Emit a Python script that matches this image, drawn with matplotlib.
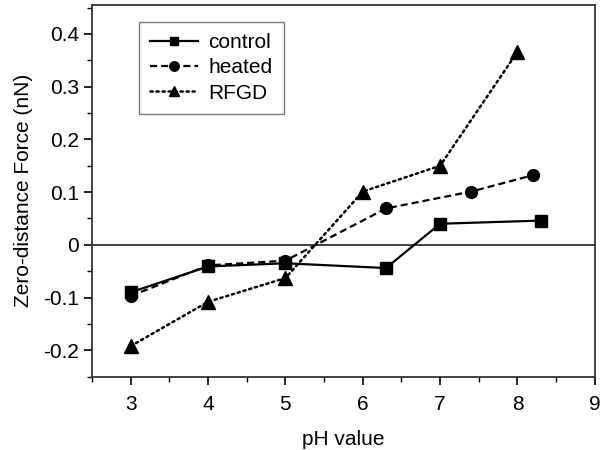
import matplotlib
matplotlib.use("Agg")
import matplotlib.pyplot as plt
from matplotlib.ticker import MultipleLocator

plt.rcParams['font.family'] = ['Liberation Sans', 'DejaVu Sans']

ph_control = [3.0, 4.0, 5.0, 6.3, 7.0, 8.3]
f_control = [-0.090, -0.041, -0.035, -0.044, 0.040, 0.046]

ph_heated = [3.0, 4.0, 5.0, 6.3, 7.4, 8.2]
f_heated = [-0.097, -0.039, -0.030, 0.069, 0.101, 0.132]

ph_rfgd = [3.0, 4.0, 5.0, 6.0, 7.0, 8.0]
f_rfgd = [-0.192, -0.108, -0.063, 0.101, 0.150, 0.366]

fig = plt.figure(figsize=(6.02, 4.5), dpi=100)
ax = fig.add_axes([0.153, 0.163, 0.835, 0.826])

ax.axhline(0, color='#333333', lw=1.3, zorder=1)

ax.plot(ph_control, f_control, color='black', lw=1.6, linestyle='-',
        marker='s', markersize=8, label='control')
ax.plot(ph_heated, f_heated, color='black', lw=1.6, linestyle=(0, (3.2, 1.8)),
        marker='o', markersize=8.5, label='heated')
ax.plot(ph_rfgd, f_rfgd, color='black', lw=1.8, linestyle=(0, (0.9, 1.5)),
        dash_capstyle='round', marker='^', markersize=9.5, label='RFGD')

ax.set_xlim(2.5, 9)
ax.set_ylim(-0.25, 0.455)
ax.xaxis.set_major_locator(MultipleLocator(1))
ax.xaxis.set_minor_locator(MultipleLocator(0.5))
ax.yaxis.set_minor_locator(MultipleLocator(0.05))
ax.set_yticks([-0.2, -0.1, 0, 0.1, 0.2, 0.3, 0.4])
ax.set_yticklabels(['-0.2', '-0.1', '0', '0.1', '0.2', '0.3', '0.4'])

ax.tick_params(which='major', direction='out', length=6, width=1.2, labelsize=15)
ax.tick_params(axis='x', which='major', pad=7)
ax.tick_params(which='minor', direction='out', length=3.5, width=1.0)
for s in ax.spines.values():
    s.set_linewidth(1.3)
    s.set_color('#333333')

ax.set_xlabel('pH value', fontsize=15, labelpad=12)
ax.set_ylabel('Zero-distance Force (nN)', fontsize=15, labelpad=7)

leg = ax.legend(loc='upper left', bbox_to_anchor=(0.072, 0.983), fontsize=15,
                fancybox=False, frameon=True, handlelength=2.3, markerscale=0.8,
                labelspacing=0.3, borderpad=0.55, handletextpad=0.5)
leg.get_frame().set_edgecolor('#555555')
leg.get_frame().set_linewidth(1.0)

fig.savefig('out.png', dpi=100)
